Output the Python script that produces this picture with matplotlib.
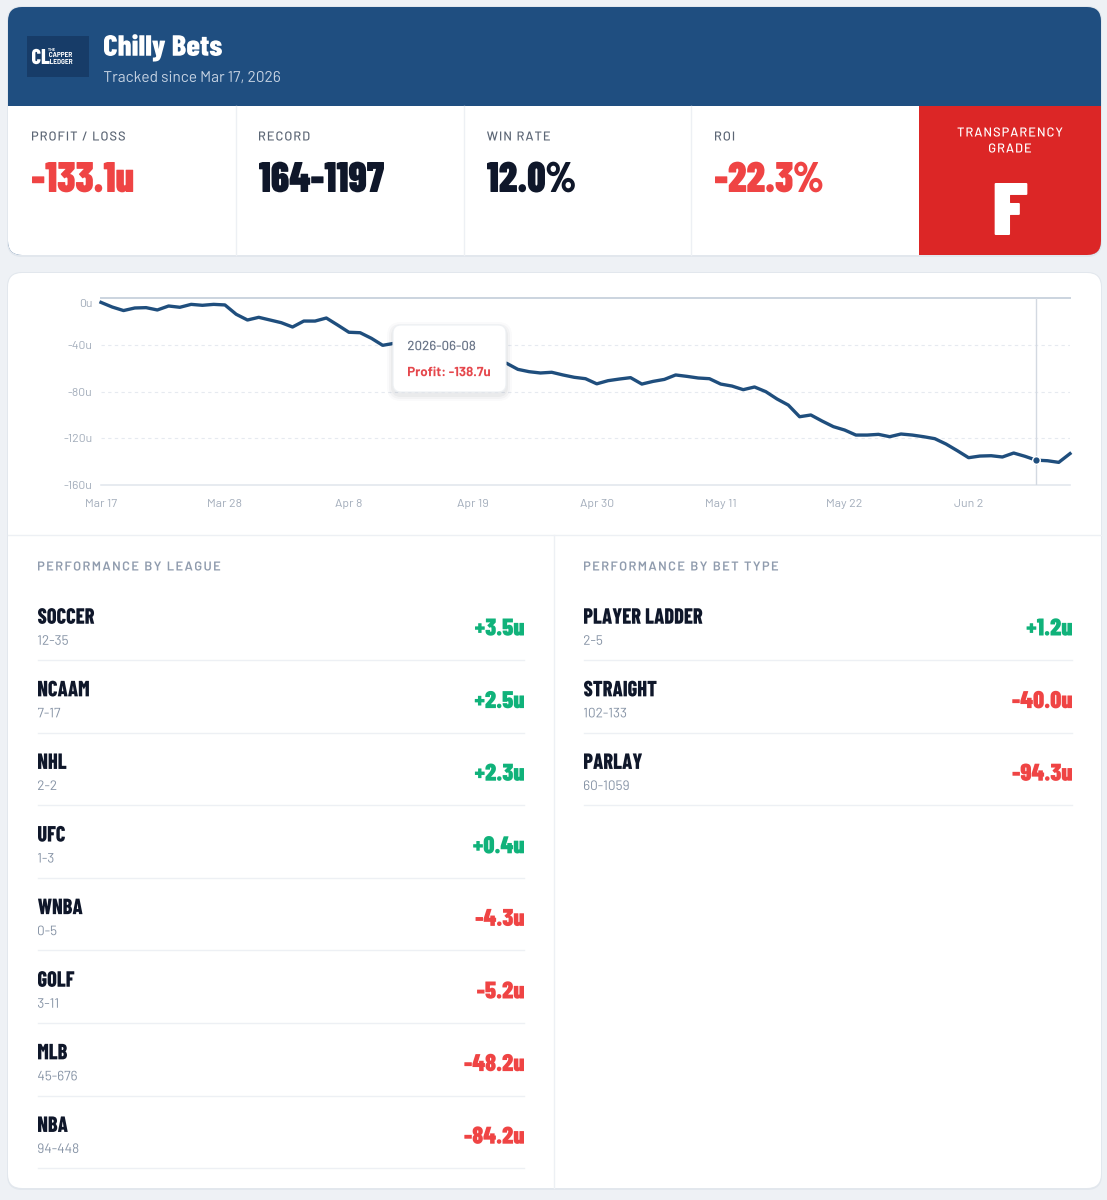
import numpy as np
import pandas as pd
import matplotlib
matplotlib.use("Agg")
import matplotlib.pyplot as plt
from matplotlib.patches import FancyBboxPatch, Rectangle, PathPatch
from matplotlib.path import Path
from matplotlib.textpath import TextPath, TextToPath
from matplotlib.font_manager import FontProperties, findfont
from matplotlib.transforms import Affine2D, ScaledTranslation

W, H = 1107, 1200

# ---- data ----
capper_name = "Chilly Bets"
tracked_since = "Tracked since Mar 17, 2026"
start_date = "2026-03-17"
profit = [
    -3.5, -7.5, -10.5, -8.3, -8.0, -10.0, -6.6, -7.7, -5.2, -6.0,
    -5.2, -5.7, -13.7, -18.6, -16.3, -18.6, -20.9, -24.6, -19.5, -19.5,
    -16.9, -22.9, -29.1, -29.5, -34.3, -40.3, -38.6, -41.0, -44.0, -43.0,
    -46.0, -48.0, -47.0, -50.0, -52.0, -54.0, -55.7, -60.9, -62.9, -64.0,
    -63.4, -65.7, -67.7, -68.9, -73.3, -70.6, -69.2, -68.0, -73.5, -71.2,
    -69.5, -65.7, -66.9, -68.3, -68.9, -73.5, -75.2, -78.3, -76.0, -80.0,
    -86.3, -91.5, -101.5, -100.0, -105.2, -110.0, -112.9, -117.2, -117.2, -116.6,
    -118.6, -116.3, -117.2, -118.6, -120.3, -124.9, -130.6, -136.6, -135.2, -134.9,
    -136.0, -132.6, -135.4, -138.7, -139.2, -140.6, -133.1,
]
y_ticks = [0, -40, -80, -120, -160]
tick_every = 11
hover_index = 83

stat_labels = ["PROFIT / LOSS", "RECORD", "WIN RATE", "ROI"]
stat_values = ["-133.1u", "164-1197", "12.0%", "-22.3%"]
grade = "F"

leagues = ["SOCCER", "NCAAM", "NHL", "UFC", "WNBA", "GOLF", "MLB", "NBA"]
league_records = ["12-35", "7-17", "2-2", "1-3", "0-5", "3-11", "45-676", "94-448"]
league_units = [3.5, 2.5, 2.3, 0.4, -4.3, -5.2, -48.2, -84.2]

bet_types = ["PLAYER LADDER", "STRAIGHT", "PARLAY"]
bet_records = ["2-5", "102-133", "60-1059"]
bet_units = [1.2, -40.0, -94.3]

# ---- colours ----
BG = "#eef1f5"
BLUE = "#1f4e80"
LOGO = "#173c68"
RED_BOX = "#dc2626"
RED = "#ef4444"
GREEN = "#10b27a"
DARK = "#0f172a"
LABEL = "#5c6675"
MUTED = "#909cae"
LINE = "#1f4e7d"
SEP = "#edf0f4"


def pick_font(names):
    for name in names:
        try:
            findfont(FontProperties(family=name), fallback_to_default=False)
            return name
        except ValueError:
            continue
    return "DejaVu Sans"


BODY = pick_font(["Barlow", "Roboto", "Inter", "DejaVu Sans"])
COND = pick_font(["Barlow Condensed", "Roboto Condensed", "Liberation Sans Narrow", "DejaVu Sans"])
# squeeze factor so the bold face looks like a condensed display face
SQ = 1.0 if COND != "DejaVu Sans" else 0.7
if COND == "Roboto Condensed":
    SQ = 0.95

ttp = TextToPath()


def put(ax, x, y, s, cap, color, family, weight="normal", ha="left", sx=1.0,
        track=0.0, zorder=5):
    """draw text as a path: y is the middle of the cap height"""
    fp = FontProperties(family=family, weight=weight)
    cap_em = TextPath((0, 0), "H", size=100, prop=fp).get_extents().height / 100
    size = cap / cap_em
    fp.set_size(size)
    parts, pen = [], 0.0
    chunks = list(s) if track else [s]
    for ch in chunks:
        if ch.strip():
            parts.append(TextPath((pen, 0), ch, size=size, prop=fp))
        pen += ttp.get_text_width_height_descent(ch, fp, ismath=False)[0] + track
    if not parts:
        return
    path = Path.make_compound_path(*parts)
    ext = path.get_extents()
    if ha == "left":
        x0 = x - ext.x0 * sx
    elif ha == "center":
        x0 = x - (ext.x0 + ext.x1) / 2 * sx
    else:
        x0 = x - ext.x1 * sx
    tr = Affine2D().scale(sx, -1).translate(x0, y + cap / 2)
    ax.add_patch(PathPatch(path.transformed(tr), fc=color, ec="none", lw=0,
                           zorder=zorder))


def rbox(ax, x0, y0, x1, y1, r, color, zorder=1, **kw):
    ax.add_patch(FancyBboxPatch((x0, y0), x1 - x0, y1 - y0,
                                boxstyle=f"round,pad=0,rounding_size={r}",
                                fc=color, zorder=zorder, **kw))


def fmt_units(v):
    return f"{v:+.1f}u"


fig = plt.figure(figsize=(W / 100, H / 100), dpi=100)
fig.patch.set_facecolor(BG)

base = fig.add_axes([0, 0, 1, 1])
base.set_xlim(0, W)
base.set_ylim(H, 0)
base.axis("off")

# ---- header card ----
rbox(base, 7, 6, 1102, 257, 15, "#e2e7ed", zorder=0, ec="none")
rbox(base, 8, 7, 1101, 255, 14, BLUE, ec="none")
rbox(base, 8, 106, 1101, 255, 14, "white", ec="none")
base.add_patch(Rectangle((8, 106), 1093, 30, fc="white", ec="none", zorder=1))
rbox(base, 919, 106, 1101, 255, 14, RED_BOX, zorder=2, ec="none")
base.add_patch(Rectangle((919, 106), 182, 30, fc=RED_BOX, ec="none", zorder=2))
base.add_patch(Rectangle((919, 106), 40, 149, fc=RED_BOX, ec="none", zorder=2))

# logo
base.add_patch(Rectangle((27, 36), 62, 41, fc=LOGO, ec="none", zorder=3))
put(base, 32, 56.5, "CL", 15, "white", COND, 800, sx=0.95 * SQ)
put(base, 48, 49.5, "THE", 2.8, "white", BODY, "bold")
put(base, 49, 54.5, "CAPPER", 5, "white", BODY, "bold", sx=0.9)
put(base, 50, 61.5, "LEDGER", 5, "white", BODY, "bold", sx=0.9)

put(base, 104, 45.5, capper_name, 20.5, "white", COND, 800, sx=1.05 * SQ)
put(base, 104, 76.5, tracked_since, 10.8, "#c6d3e3", BODY, "normal", sx=1.0)

# stats
stat_x = [32, 259, 487, 715]
for sx_, lab, val in zip(stat_x, stat_labels, stat_values):
    put(base, sx_, 136, lab, 9, LABEL, BODY, "medium", track=1.0)
    col = RED if val.startswith("-") else DARK
    put(base, sx_, 177, val, 30, col, COND, 900, sx=0.935 * SQ)
for xd in [236, 464, 691]:
    base.plot([xd, xd], [106, 255], color=SEP, lw=1, zorder=2)

put(base, 1010, 132, "TRANSPARENCY", 9, "white", BODY, "medium", ha="center", track=1.0)
put(base, 1010, 148, "GRADE", 9, "white", BODY, "medium", ha="center", track=1.0)
put(base, 1011, 209, grade, 52, "white", COND, 900, ha="center", sx=1.1 * SQ)

# ---- chart card ----
rbox(base, 7, 272, 1102, 1190, 15, "#e2e7ed", zorder=0, ec="none")
rbox(base, 8, 273, 1101, 1188, 14, "white", ec="none")
base.plot([8, 1101], [535, 535], color=SEP, lw=1, zorder=2)
base.plot([554, 554], [535, 1188], color=SEP, lw=1, zorder=2)


def table(x0, x1, title, names, records, units):
    put(base, x0, 566, title, 9, MUTED, BODY, "semibold", track=1.4)
    for i, (nm, rec, u) in enumerate(zip(names, records, units)):
        y = 616 + 72.6 * i
        put(base, x0, y, nm, 15.5, DARK, COND, 800, sx=0.92 * SQ)
        put(base, x0, y + 24, rec, 9.5, "#8794a6", BODY, "normal")
        put(base, x1, y + 11, fmt_units(u), 17, GREEN if u >= 0 else RED, COND,
            900, ha="right", sx=1.0 * SQ)
        base.plot([x0, x1], [y + 44, y + 44], color=SEP, lw=1, zorder=2)


table(38, 524, "PERFORMANCE BY LEAGUE", leagues, league_records, league_units)
table(584, 1072, "PERFORMANCE BY BET TYPE", bet_types, bet_records, bet_units)

# ---- profit line ----
dates = pd.date_range(start_date, periods=len(profit), freq="D")
ax = fig.add_axes([101 / W, 1 - 485 / H, 969 / W, 186.7 / H])
ax.patch.set_alpha(0)
ax.set_xlim(dates[0], dates[-1])
ax.set_ylim(-160, 0)
for s in ax.spines.values():
    s.set_visible(False)
for v in y_ticks[1:-1]:
    ax.axhline(v, color="#e6eaf0", lw=0.8, dashes=(3, 3), zorder=1)
ax.axhline(0, color="#cbd4df", lw=1.4, zorder=1, clip_on=False)
ax.axhline(-160, color="#e0e5ec", lw=1.1, zorder=1, clip_on=False)
ax.axvline(dates[hover_index], color="#d3d9e1", lw=1.0, zorder=1)
ax.plot(dates, profit, color=LINE, lw=2.4, solid_joinstyle="round", zorder=3,
        clip_on=False)
ax.plot(dates[hover_index], profit[hover_index], "o", color=LINE, ms=5.5,
        mec="white", mew=1.0, zorder=4)

tick_dates = dates[::tick_every][:8]
ax.set_xticks(tick_dates)
ax.set_xticklabels([f"{d:%b} {d.day}" for d in tick_dates])
ax.set_yticks(y_ticks)
ax.set_yticklabels([f"{v}u" for v in y_ticks])
ax.tick_params(length=0, labelsize=8.8, labelcolor="#a3adbb")
ax.tick_params(axis="x", pad=10)
ax.tick_params(axis="y", pad=6)
for lab in ax.get_xticklabels() + ax.get_yticklabels():
    lab.set_fontfamily(BODY)
# the 0u label sits a little below its line
zero_lab = ax.get_yticklabels()[0]
zero_lab.set_transform(zero_lab.get_transform()
                       + ScaledTranslation(0, -5 / 100, fig.dpi_scale_trans))

# ---- tooltip ----
top = fig.add_axes([0, 0, 1, 1])
top.set_xlim(0, W)
top.set_ylim(H, 0)
top.axis("off")
for k, a in [(6, 0.02), (4, 0.03), (2, 0.04)]:
    rbox(top, 393 - k, 325 - k + 3, 506 + k, 392 + k + 3, 8 + k, "#1e293b",
         ec="none", alpha=a)
rbox(top, 393, 325, 506, 392, 8, "white", zorder=2, ec="#edf0f3", lw=0.8)
put(top, 408, 345.5, f"{dates[hover_index]:%Y-%m-%d}", 9.3, "#6b7689", BODY, "medium")
put(top, 408, 371.5, f"Profit: {profit[hover_index]:.1f}u", 9.3, "#e5484d", BODY, "bold")

fig.savefig("out.png", dpi=100, facecolor=BG)
